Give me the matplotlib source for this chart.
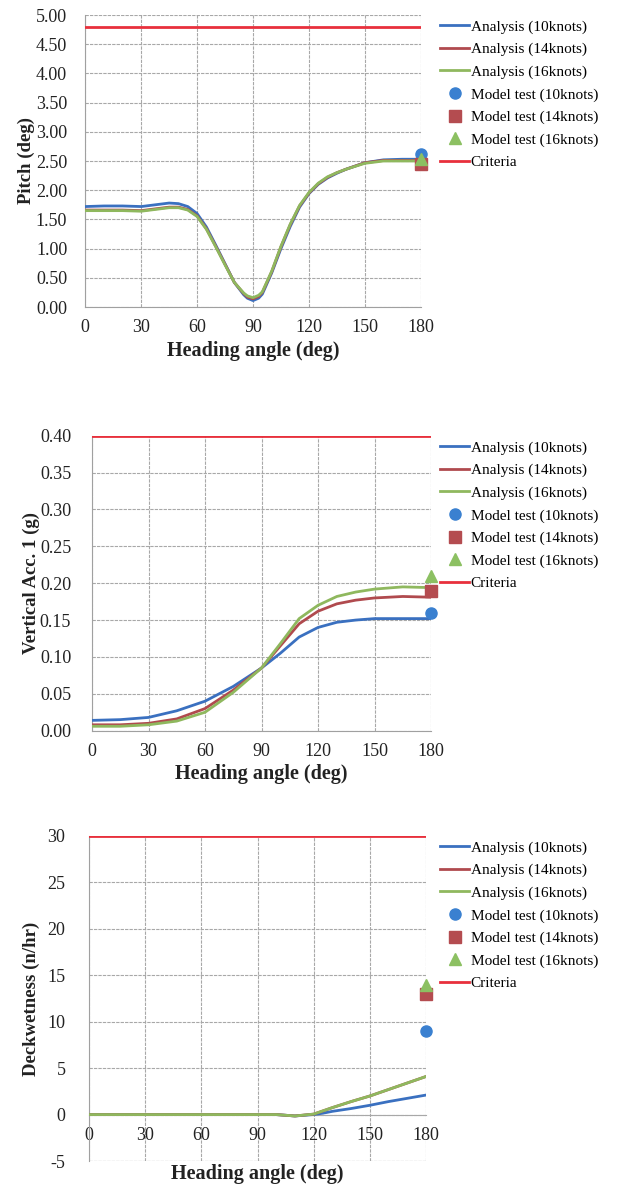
import numpy as np
import matplotlib
matplotlib.use("Agg")
import matplotlib.pyplot as plt

plt.rcParams["font.family"] = ["Liberation Serif", "DejaVu Serif"]

# Pitch panel
pitch_x = [0, 10, 20, 30, 35, 40, 45, 50, 55, 60, 65, 70, 75, 80, 85, 87, 90, 93, 95, 100,
           105, 110, 115, 120, 125, 130, 135, 140, 150, 160, 170, 180]
pitch_10 = [1.72, 1.73, 1.73, 1.72, 1.74, 1.76, 1.78, 1.77, 1.72, 1.60, 1.37, 1.06, 0.74, 0.42,
            0.21, 0.15, 0.11, 0.15, 0.22, 0.58, 1.00, 1.38, 1.71, 1.94, 2.10, 2.21, 2.29, 2.36,
            2.47, 2.52, 2.53, 2.53]
pitch_14 = [1.66, 1.66, 1.66, 1.65, 1.67, 1.69, 1.71, 1.71, 1.67, 1.56, 1.34, 1.04, 0.73, 0.42,
            0.23, 0.17, 0.14, 0.18, 0.25, 0.60, 1.03, 1.41, 1.73, 1.95, 2.11, 2.22, 2.30, 2.36,
            2.47, 2.51, 2.51, 2.51]
pitch_16 = [1.65, 1.65, 1.65, 1.64, 1.66, 1.68, 1.70, 1.70, 1.66, 1.55, 1.33, 1.03, 0.72, 0.42,
            0.24, 0.19, 0.16, 0.20, 0.26, 0.61, 1.04, 1.42, 1.74, 1.96, 2.12, 2.23, 2.30, 2.36,
            2.46, 2.50, 2.50, 2.50]
pitch_test = [2.62, 2.45, 2.53]
pitch_criteria = 4.80

# Vertical acceleration panel
acc_x = [0, 15, 30, 45, 60, 75, 90, 100, 110, 120, 130, 140, 150, 165, 180]
acc_10 = [0.014, 0.015, 0.018, 0.027, 0.040, 0.060, 0.085, 0.105, 0.127, 0.140, 0.147, 0.150,
          0.152, 0.152, 0.152]
acc_14 = [0.008, 0.008, 0.010, 0.016, 0.030, 0.055, 0.085, 0.115, 0.145, 0.162, 0.172, 0.177,
          0.180, 0.182, 0.181]
acc_16 = [0.006, 0.006, 0.008, 0.013, 0.025, 0.052, 0.085, 0.118, 0.152, 0.170, 0.182, 0.188,
          0.192, 0.195, 0.194]
acc_test = [0.16, 0.19, 0.21]
acc_criteria = 0.40

# Deck wetness panel
wet_x = [0, 30, 60, 90, 100, 110, 120, 125, 130, 140, 150, 160, 170, 180]
wet_10 = [0, 0, 0, 0, 0, -0.15, 0.0, 0.15, 0.35, 0.65, 1.0, 1.4, 1.75, 2.1]
wet_14 = [0, 0, 0, 0, 0, -0.15, 0.05, 0.4, 0.75, 1.4, 2.0, 2.7, 3.4, 4.1]
wet_16 = [0, 0, 0, 0, 0, -0.15, 0.05, 0.4, 0.75, 1.4, 2.0, 2.7, 3.4, 4.1]
wet_test = [9, 13, 14]
wet_criteria = 30

line_colors = ["#3a70c0", "#b04a4e", "#8fb85e"]
marker_colors = ["#3a80d0", "#b44c50", "#8cc062"]
markers = ["o", "s", "^"]
criteria_color = "#e8303c"
speeds = ["10knots", "14knots", "16knots"]

W, H = 618, 1184
fig = plt.figure(figsize=(W / 100, H / 100), dpi=100)


def px_axes(left, right, top, bottom):
    ax = fig.add_axes([left / W, 1 - bottom / H, (right - left) / W, (bottom - top) / H])
    ax.px_left, ax.px_width = left, right - left
    return ax


def draw_panel(ax, x, series, tests, criteria, ylim, yticks, fmt, ylabel, ylabel_x, legend_top,
               ypad, x_at_zero=False):
    handles = []
    for s, c, sp in zip(series, line_colors, speeds):
        h, = ax.plot(x, s, color=c, lw=2, label=f"Analysis ({sp})", zorder=3)
        handles.append(h)
    for t, c, m, sp in zip(tests, marker_colors, markers, speeds):
        h, = ax.plot([180], [t], ls="none", marker=m, ms=8, color=c, mec=c,
                     label=f"Model test ({sp})", clip_on=False, zorder=4)
        handles.append(h)
    h, = ax.plot([0, 180], [criteria, criteria], color=criteria_color, lw=2, label="Criteria", zorder=3)
    handles.append(h)

    ax.set_xlim(0, 180)
    ax.set_ylim(*ylim)
    ax.set_xticks(range(0, 181, 30))
    ax.set_yticks(yticks)
    ax.set_yticklabels([fmt.format(v) for v in yticks])
    ax.grid(True, color="#a8a8a8", lw=0.8, ls=(0, (3, 1)))
    ax.set_axisbelow(True)
    for side in ["top", "right"]:
        ax.spines[side].set_visible(False)
    for side in ["left", "bottom"]:
        ax.spines[side].set_color("#a0a0a0")
        ax.spines[side].set_linewidth(0.8)
    ax.tick_params(length=0, labelsize=13, colors="#222222")
    ax.tick_params(axis="x", pad=9)
    ax.tick_params(axis="y", pad=ypad)
    if x_at_zero:
        ax.spines["bottom"].set_position(("data", 0))
    ax.set_ylabel(ylabel, fontsize=13.5, fontweight="bold", color="#222222")
    # right edge of the rotated label sits ~12px right of its centre line
    ax.yaxis.set_label_coords((ylabel_x + 12 - ax.px_left) / ax.px_width, 0.5)
    ax.set_xlabel("Heading angle (deg)", fontsize=14.5, fontweight="bold", color="#222222", labelpad=3)

    ax.legend(handles=handles, loc="upper left", bbox_to_anchor=(440 / W, 1 - legend_top / H),
              bbox_transform=fig.transFigure, frameon=False, fontsize=11,
              handlelength=1.9, handletextpad=0.1, labelspacing=0.57,
              borderpad=0, borderaxespad=0)
    return ax


ax1 = px_axes(85.3, 420.7, 15, 307)
draw_panel(ax1, pitch_x, [pitch_10, pitch_14, pitch_16], pitch_test, pitch_criteria,
           (0, 5), np.arange(0, 5.01, 0.5), "{:.2f}", "Pitch (deg)", 23, 20, ypad=13)

ax2 = px_axes(92, 431, 435.7, 730.7)
draw_panel(ax2, acc_x, [acc_10, acc_14, acc_16], acc_test, acc_criteria,
           (0, 0.4), np.arange(0, 0.401, 0.05), "{:.2f}", "Vertical Acc. 1 (g)", 28, 441, ypad=15)

ax3 = px_axes(89, 426, 836, 1161)
draw_panel(ax3, wet_x, [wet_10, wet_14, wet_16], wet_test, wet_criteria,
           (-5, 30), np.arange(-5, 31, 5), "{:.0f}", "Deckwetness (n/hr)", 28, 841, ypad=17,
           x_at_zero=True)
ax3.spines["bottom"].set_color("#a8a8a8")
ax3.axhline(-5, color="#a8a8a8", lw=0.8, ls=(0, (3, 1)))
ax3.xaxis.set_label_coords(0.5, -0.01)

fig.savefig("out.png", dpi=100)
